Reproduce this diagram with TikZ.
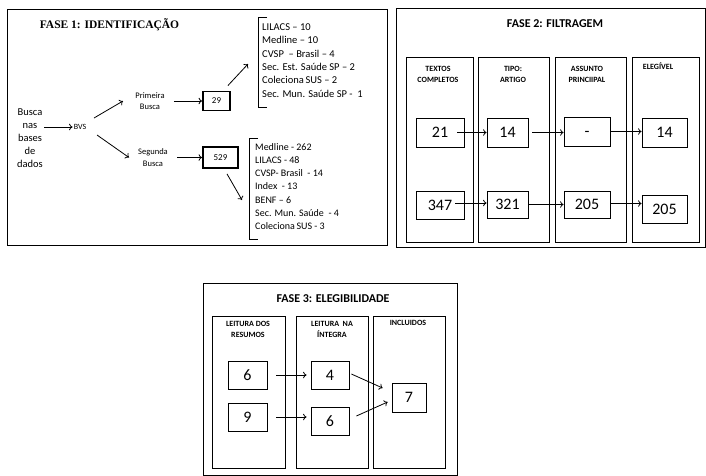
\documentclass[tikz,border=0pt]{standalone}
\usepackage{fontspec}
\usetikzlibrary{arrows.meta}
\setmainfont{Carlito}
\newfontfamily\titlefont{Liberation Serif}

\begin{document}
\begin{tikzpicture}[x=1pt, y=-1pt,
  panel/.style={draw, line width=0.8pt, inner sep=0pt},
  col/.style={draw, line width=0.8pt, inner sep=0pt},
  numbox/.style={draw, line width=0.8pt, inner sep=0pt, text height=10.5pt, text depth=0pt,
                 font=\fontsize{16}{18}\selectfont},
  thickbox/.style={draw, line width=1.8pt, inner sep=0pt, font=\fontsize{9}{10}\selectfont},
  head/.style={font=\fontsize{8}{11}\selectfont\bfseries, align=center, inner sep=0pt},
  small/.style={font=\fontsize{8.5}{11.7}\selectfont, align=center, inner sep=1pt},
  list/.style={align=left, inner sep=0pt, anchor=west},
  arrow/.style={-{To[length=3.5pt, width=6.5pt]}, line width=0.8pt}
]
  \useasboundingbox (0,0) rectangle (706,475);

  % fase 1
  \node[panel, minimum width=380pt, minimum height=236pt] (fase1) at (197,127) {};
  \node[font=\titlefont\fontsize{11.5}{13}\selectfont\bfseries] (tit1) at (109.5,25) {FASE 1: IDENTIFICAÇÃO};
  \node[font=\fontsize{10.5}{13}\selectfont, align=center, inner sep=1pt] (busca) at (30,138) {Busca\\nas\\bases\\de\\dados};
  \node[font=\fontsize{8}{9}\selectfont, inner sep=1pt] (bvs) at (80,127) {BVS};
  \node[small] (prim) at (150,101) {Primeira\\Busca};
  \node[small] (seg) at (153,157.5) {Segunda\\Busca};
  \node[thickbox, minimum width=27pt, minimum height=19pt] (b29) at (216.5,101) {29};
  \node[thickbox, minimum width=35pt, minimum height=21pt] (b529) at (220.5,157.5) {529};
  \node[list, font=\fontsize{10.5}{13.4}\selectfont] (lista1) at (262,60.5)
    {LILACS – 10\\Medline – 10\\CVSP~ – Brasil – 4\\Sec. Est. Saúde SP – 2\\Coleciona\,SUS – 2\\Sec. Mun. Saúde SP - ~1};
  \node[list, font=\fontsize{10}{13.2}\selectfont] (lista2) at (255,186.5)
    {Medline - 262\\LILACS - 48\\CVSP- Brasil~ - 14\\Index~ - 13\\BENF – 6\\Sec. Mun. Saúde~ - 4\\Coleciona\,SUS - 3};
  \draw[line width=0.8pt] (267,17) -- (258,17) -- (258,107) -- (267,107);
  \draw[line width=0.8pt] (258,138) -- (249,138) -- (249,239) -- (258,239);

  \draw[arrow] (busca.east |- bvs.west) -- (bvs.west);
  \draw[arrow] ([xshift=14pt, yshift=9pt]bvs.center) -- ([xshift=-27pt]prim.center);
  \draw[arrow] ([xshift=17pt, yshift=-8pt]bvs.center) -- ([xshift=-24pt]seg.center);
  \draw[arrow] ([xshift=8pt]prim.east) -- (b29.west);
  \draw[arrow] ([xshift=8pt]seg.east) -- (b529.west);
  \draw[arrow] ([xshift=-3pt, yshift=5pt]b29.north east) -- ([xshift=-14pt, yshift=-3.5pt]lista1.west);
  \draw[arrow] ([xshift=6.5pt, yshift=-5pt]b529.south) -- ([xshift=-13pt, yshift=-13.5pt]lista2.west);

  % fase 2
  \node[panel, minimum width=309pt, minimum height=239pt] (fase2) at (550.5,127.5) {};
  \node[font=\fontsize{12}{14}\selectfont\bfseries] (tit2) at (555,24) {FASE 2: FILTRAGEM};
  \node[col, minimum width=67pt, minimum height=185pt] (c1) at (439.5,149.5) {};
  \node[col, minimum width=71pt, minimum height=185pt] (c2) at (513.5,149.5) {};
  \node[col, minimum width=71pt, minimum height=185pt] (c3) at (590.5,149.5) {};
  \node[col, minimum width=67pt, minimum height=185pt] (c4) at (665.5,149.5) {};
  \node[head] (h1) at (438,74.5) {TEXTOS\\COMPLETOS};
  \node[head] (h2) at (513,74.5) {TIPO:\\ARTIGO};
  \node[head] (h3) at (587,74.5) {ASSUNTO\\PRINCIIPAL};
  \node[head] (h4) at (658,66) {ELEGÍVEL};

  \node[numbox, minimum width=48pt, minimum height=29pt] (f21) at (440,132.5) {21};
  \node[numbox, minimum width=41pt, minimum height=29pt] (f14) at (507.5,132.5) {14};
  \node[numbox, minimum width=46pt, minimum height=29pt] (fdash) at (587,131.5) {-};
  \node[numbox, minimum width=45pt, minimum height=29pt] (f14b) at (664.5,132.5) {14};
  \node[numbox, minimum width=48pt, minimum height=28pt] (g347) at (440,205) {347};
  \node[numbox, minimum width=41pt, minimum height=27pt] (g321) at (507.5,204.5) {321};
  \node[numbox, minimum width=46pt, minimum height=27pt] (g205) at (587,204.5) {205};
  \node[numbox, minimum width=45pt, minimum height=28pt] (g205b) at (664.5,209) {205};

  \draw[arrow] ([xshift=-7pt]f21.east) -- (f14.west);
  \draw[arrow] ([xshift=4pt]f14.east) -- (f14.east -| fdash.west);
  \draw[arrow] (fdash.east) -- (fdash.east -| f14b.west);
  \draw[arrow] ([xshift=-9pt, yshift=2pt]g347.east) -- ([yshift=2pt]g347.east -| g321.west);
  \draw[arrow] (g321.east) -- (g321.east -| g205.west);
  \draw[arrow] ([yshift=1pt]g205.east) -- ([yshift=1pt]g205.east -| g205b.west);

  % fase 3
  \node[panel, minimum width=254pt, minimum height=192pt] (fase3) at (330,379) {};
  \node[font=\fontsize{12}{14}\selectfont\bfseries] (tit3) at (333,299) {FASE 3: ELEGIBILIDADE};
  \node[col, minimum width=73pt, minimum height=152pt] (d1) at (248.5,392) {};
  \node[col, minimum width=72pt, minimum height=152pt] (d2) at (332,392) {};
  \node[col, minimum width=72pt, minimum height=152pt] (d3) at (409,392) {};
  \node[head] (k1) at (248,329) {LEITURA DOS\\RESUMOS};
  \node[head] (k2) at (332,329) {LEITURA~ NA\\ÍNTEGRA};
  \node[head] (k3) at (408,323) {INCLUIDOS};

  \node[numbox, minimum width=39pt, minimum height=28pt] (e6) at (247.5,375) {6};
  \node[numbox, minimum width=39pt, minimum height=28pt] (e9) at (247.5,417) {9};
  \node[numbox, minimum width=38pt, minimum height=28pt] (e4) at (330,375) {4};
  \node[numbox, minimum width=38pt, minimum height=28pt] (e6b) at (330,421) {6};
  \node[numbox, minimum width=34pt, minimum height=29pt] (i7) at (409,397.5) {7};

  \draw[arrow] ([xshift=9pt]e6.east) -- ([xshift=-4pt]e4.west);
  \draw[arrow] ([xshift=9pt]e9.east) -- ([xshift=-4pt]e9.east -| e6b.west);
  \draw[arrow] ([xshift=2pt, yshift=1pt]e4.east) -- ([xshift=-9pt, yshift=9.5pt]i7.west);
  \draw[arrow] ([xshift=7pt, yshift=5pt]e6b.east) -- ([xshift=-4pt, yshift=-4.5pt]i7.west);
\end{tikzpicture}
\end{document}
